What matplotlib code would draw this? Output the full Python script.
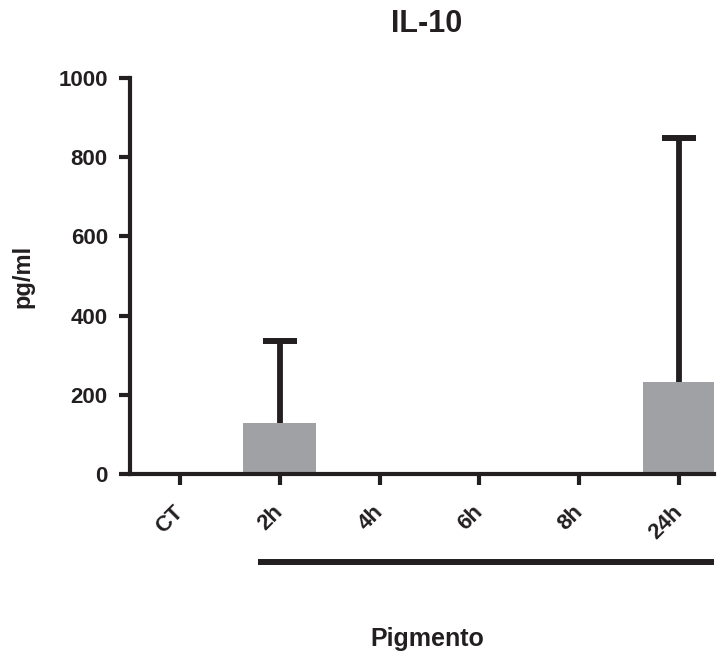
import matplotlib
matplotlib.use('Agg')
import matplotlib.pyplot as plt
import numpy as np

## Data
groups = ['CT', '2h', '4h', '6h', '8h', '24h']
means = [0, 129, 0, 0, 0, 233]
err_up = [0, 207, 0, 0, 0, 615]
show_err = [False, True, False, False, False, True]
treated_from = 1  # treatment bar starts under 2h

BAR_COLOR = '#a0a1a5'
INK = '#231f20'
W, H = 719, 655

plt.rcParams['font.family'] = ['Liberation Sans', 'DejaVu Sans']
plt.rcParams['font.weight'] = 'bold'

fig = plt.figure(figsize=(W / 100, H / 100), dpi=100)
ax = fig.add_axes([130 / W, 1 - 474 / H, (714 - 130) / W, (474 - 78) / H])

x = np.arange(len(groups))
ax.bar(x, means, width=0.73, color=BAR_COLOR, zorder=2)

mask = np.array(show_err)
me = np.array(means)[mask]
ee = np.array(err_up)[mask]
_, caps, _ = ax.errorbar(x[mask], me, yerr=[np.zeros_like(ee), ee], fmt='none',
                         ecolor=INK, elinewidth=4.2, capsize=12, capthick=4.3,
                         zorder=3)
caps[0].set_visible(False)  # only the upper cap, like Prism

ax.set_xlim(-0.5, 5.35)
ax.set_ylim(0, 1000)
ax.set_yticks([0, 200, 400, 600, 800, 1000])

for side in ['top', 'right']:
    ax.spines[side].set_visible(False)
for side in ['left', 'bottom']:
    ax.spines[side].set_linewidth(3)
    ax.spines[side].set_color(INK)
    ax.spines[side].set_capstyle('projecting')

ax.tick_params(axis='both', which='major', length=8, width=3, color=INK,
               labelsize=16, labelcolor=INK, direction='out')
ax.tick_params(axis='y', pad=8)
ax.set_xticks(x)
ax.set_xticklabels(groups, rotation=45, ha='right', va='center',
                   rotation_mode='anchor', fontweight='bold')
ax.tick_params(axis='x', pad=17)

fig.text(427 / W, 1 - 32 / H, 'IL-10', ha='center', va='baseline',
         fontsize=22, fontweight='bold', color=INK)
fig.text(23 / W, 1 - 276 / H, 'pg/ml', rotation=90, ha='center', va='center',
         fontsize=17, fontweight='bold', color=INK)

# treatment bar under the time points
ax.plot([treated_from - 0.22, 5.35], [-222, -222], color=INK, lw=4.3,
        clip_on=False, solid_capstyle='butt')
fig.text(427 / W, 1 - 646 / H, 'Pigmento', ha='center', va='baseline',
         fontsize=18, fontweight='bold', color=INK)

fig.savefig('out.png', dpi=100)
